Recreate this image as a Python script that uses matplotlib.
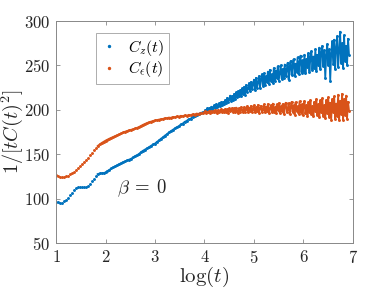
import numpy as np
import matplotlib.pyplot as plt

plt.rcParams['font.family'] = 'serif'
plt.rcParams['font.serif'] = ['cmr10', 'DejaVu Serif']
plt.rcParams['mathtext.fontset'] = 'cm'
plt.rcParams['axes.formatter.use_mathtext'] = True

# values
# early part: every 0.04 in log(t) from 1.00 to 3.96
cz_early = [
    96.5, 96, 95.5, 95.5, 97, 98.5, 101, 104, 106.5, 109.5, 112, 113, 113.3,
    113.2, 113, 113.3, 114, 116.5, 119.5, 122.5, 125.5, 127.5, 128.3, 128.5, 128.7,
    129.5, 131, 132.5, 134, 135.5, 136.5, 137.8, 139, 140, 141.3, 142, 143.2, 144,
    145, 146.5, 148, 149, 150.5, 152.5, 154, 155.3, 156.5, 158, 159.5, 161,
    162, 164, 165.5, 167.5, 169, 171, 172.5, 174.5, 176, 177.5, 179, 180.5, 181.5,
    183.5, 184.5, 186.5, 187.5, 189.5, 190, 192, 192.5, 194.5, 195, 196.5, 197,
]
ce_early = [
    126.5, 125.5, 124.8, 124.5, 124.5, 125, 126, 127.2, 128.5, 130, 132, 134,
    136.2, 138.5, 141, 143.5, 146.2, 149, 151.8, 154.5, 157, 159.2, 161, 162.6, 164,
    165.3, 166.5, 167.6, 168.6, 169.6, 170.5, 171.5, 172.5, 173.5, 174.5, 175.5,
    176.3, 177, 177.6, 178.2, 179, 179.8, 180.8, 182, 183.2, 184.2, 185.2, 186,
    186.7, 187.5,
    188, 188.6, 188.9, 189.5, 189.8, 190.6, 190.5, 191.3, 191, 192, 191.6,
    192.6, 192.2, 193.3, 192.7, 193.8, 193.2, 194.4, 193.9, 195, 194.6, 195.8,
    195.4, 196.6, 196.3,
]
# late noisy part: every 0.02 in log(t) from 4.00 to 6.92
cz_late = [
    198, 200, 199, 201.5, 199.5, 202, 200, 203.5, 201, 203,
    205, 202, 206.5, 203, 204.5, 207.5, 204, 208.5, 205.5, 209,
    206, 211, 208, 213.5, 209, 212, 216, 210, 215.5, 211,
    218, 212.5, 219.5, 214, 221, 216, 222, 215.5, 224, 218,
    226, 217, 228, 220, 224, 230, 221, 231.5, 223, 229,
    234, 222, 236, 225, 231, 238, 224, 235, 240, 227,
    241, 228, 238, 231, 243, 229, 245, 233, 240, 230,
    247, 232, 244, 236, 249, 233, 242, 250, 235, 246,
    236, 251, 238, 245, 253, 234, 248, 255, 239, 250,
    257, 238, 252, 243, 259, 240, 254, 261, 242, 256,
    244, 262, 241, 257, 248, 264, 243, 259, 266, 245,
    260, 247, 268, 244, 262, 251, 270, 246, 265, 272,
    249, 267, 236, 262, 274, 250, 268, 233, 264, 277,
    252, 279, 246, 270, 283, 248, 266, 288, 253, 275,
    247, 284, 255, 272, 250, 280, 262,
]
ce_late = [
    197, 198.5, 196.5, 198, 197.5, 199, 196.5, 198.5, 197.5, 199,
    197, 199.5, 198, 196.5, 200, 197.5, 199, 200.5, 197, 199.5,
    197.5, 201, 198, 200.5, 196.5, 201.5, 198.5, 200, 202, 197.5,
    201.5, 197, 202.5, 199, 196.5, 202, 198, 203, 200, 197,
    203, 198, 201, 204, 197, 202.5, 199, 204.5, 197.5, 201,
    205, 197, 203, 199, 205.5, 196.5, 202, 204.5, 197.5, 200.5,
    206, 197, 203.5, 199, 206.5, 196, 201.5, 205, 197.5, 207,
    198, 203, 196, 206, 200, 207.5, 196.5, 204, 198.5, 206.5,
    195.5, 204, 208, 197, 201, 207.5, 195, 203, 209, 197.5,
    205, 194.5, 208.5, 199, 204, 195.5, 209.5, 197, 206, 194,
    203, 210, 196, 205, 193.5, 208.5, 198, 211, 195, 204,
    192.5, 209, 199, 212, 194, 206, 191.5, 210.5, 197, 213,
    193, 205, 190.5, 211, 196, 214, 192, 208, 189, 212,
    198, 215, 190, 207, 193, 217, 188, 210, 195, 218,
    189, 212, 194, 216, 190, 209, 199,
]
logt_early = np.linspace(1.0, 3.96, len(cz_early))
logt_late = np.linspace(4.0, 6.92, len(cz_late))
logt = np.concatenate([logt_early, logt_late])
cz_vals = np.array(cz_early + cz_late)
ce_vals = np.array(ce_early + ce_late)

blue = (0.0, 0.447, 0.741)
orange = (0.85, 0.325, 0.098)

fig = plt.figure(figsize=(3.9, 2.93), dpi=100)
ax = fig.add_axes([0.1436, 0.1706, 0.7615, 0.7577])

n0 = 21
ax.plot(logt[n0:], cz_vals[n0:], '-', color=blue, lw=1.3)
ax.plot(logt[n0:], ce_vals[n0:], '-', color=orange, lw=1.3)
ax.plot(logt, cz_vals, '.', color=blue, ms=2.2, label=r'$C_z(t)$')
ax.plot(logt, ce_vals, '.', color=orange, ms=2.2, label=r'$C_\epsilon(t)$')

ax.set_xlim(1, 7)
ax.set_ylim(50, 300)
ax.set_xticks(range(1, 8))
ax.set_yticks(range(50, 301, 50))
ax.tick_params(direction='in', top=True, right=True, length=3, width=0.6,
               color='#888888', labelsize=12, labelcolor='#262626', pad=4)
for s in ax.spines.values():
    s.set_color('#888888')
    s.set_linewidth(0.7)

ax.set_xlabel(r'$\log(t)$', fontsize=15, color='#262626')
ax.set_ylabel(r'$1/[tC(t)^2]$', fontsize=14.5, color='#262626')
ax.xaxis.set_label_coords(0.5, -0.1)
ax.yaxis.set_label_coords(-0.105, 0.5)
ax.text(2.74, 112, r'$\beta\:=\:0$', fontsize=13.5, ha='center', va='center',
        color='#262626')

leg = ax.legend(loc='upper left', bbox_to_anchor=(0.134, 0.947), borderaxespad=0,
                fontsize=11.5, fancybox=False, markerscale=1.3, handlelength=1.1,
                handletextpad=0.6, borderpad=0.3, labelspacing=0.1)
leg.get_frame().set_edgecolor('#888888')
leg.get_frame().set_linewidth(0.6)

fig.savefig('out.png', dpi=100)
